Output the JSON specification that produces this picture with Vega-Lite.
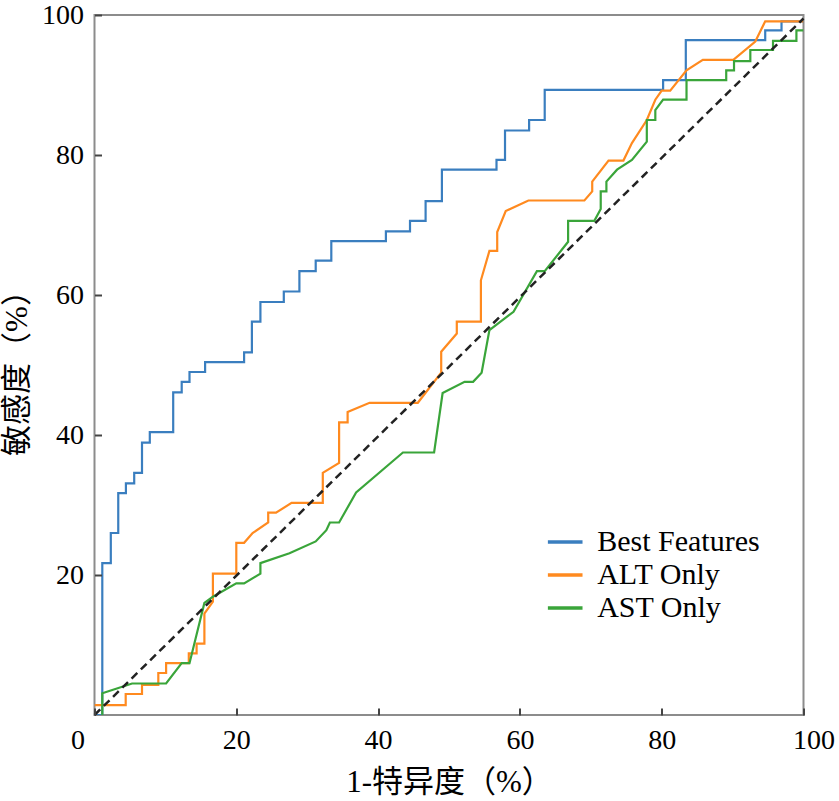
{
  "$schema": "https://vega.github.io/schema/vega-lite/v6.json",
  "width": 709,
  "height": 700,
  "autosize": {"type": "none"},
  "padding": {"left": 94.5, "top": 15, "right": 35.5, "bottom": 86},
  "background": "white",
  "config": {
    "view": {"stroke": "#8c8c8c", "strokeWidth": 2},
    "axis": {
      "grid": false,
      "domain": false,
      "labelFont": "Liberation Serif",
      "labelFontSize": 28,
      "labelColor": "black",
      "titleFont": "Liberation Serif, Noto Sans CJK SC",
      "titleFontSize": 31,
      "titleFontWeight": "normal",
      "titleColor": "black"
    }
  },
  "layer": [
    {
      "data": {
        "values": [
          {"series": "Best Features", "i": 0, "fpr": 0, "tpr": 0},
          {"series": "Best Features", "i": 1, "fpr": 1.1, "tpr": 0},
          {"series": "Best Features", "i": 2, "fpr": 1.1, "tpr": 21.7},
          {"series": "Best Features", "i": 3, "fpr": 2.3, "tpr": 21.7},
          {"series": "Best Features", "i": 4, "fpr": 2.3, "tpr": 26.0},
          {"series": "Best Features", "i": 5, "fpr": 3.35, "tpr": 26.0},
          {"series": "Best Features", "i": 6, "fpr": 3.35, "tpr": 31.7},
          {"series": "Best Features", "i": 7, "fpr": 4.43, "tpr": 31.7},
          {"series": "Best Features", "i": 8, "fpr": 4.43, "tpr": 33.1},
          {"series": "Best Features", "i": 9, "fpr": 5.6, "tpr": 33.1},
          {"series": "Best Features", "i": 10, "fpr": 5.6, "tpr": 34.6},
          {"series": "Best Features", "i": 11, "fpr": 6.7, "tpr": 34.6},
          {"series": "Best Features", "i": 12, "fpr": 6.7, "tpr": 38.9},
          {"series": "Best Features", "i": 13, "fpr": 7.8, "tpr": 38.9},
          {"series": "Best Features", "i": 14, "fpr": 7.8, "tpr": 40.4},
          {"series": "Best Features", "i": 15, "fpr": 11.1, "tpr": 40.4},
          {"series": "Best Features", "i": 16, "fpr": 11.1, "tpr": 46.1},
          {"series": "Best Features", "i": 17, "fpr": 12.3, "tpr": 46.1},
          {"series": "Best Features", "i": 18, "fpr": 12.3, "tpr": 47.6},
          {"series": "Best Features", "i": 19, "fpr": 13.4, "tpr": 47.6},
          {"series": "Best Features", "i": 20, "fpr": 13.4, "tpr": 49.0},
          {"series": "Best Features", "i": 21, "fpr": 15.6, "tpr": 49.0},
          {"series": "Best Features", "i": 22, "fpr": 15.6, "tpr": 50.4},
          {"series": "Best Features", "i": 23, "fpr": 21.1, "tpr": 50.4},
          {"series": "Best Features", "i": 24, "fpr": 21.1, "tpr": 51.8},
          {"series": "Best Features", "i": 25, "fpr": 22.2, "tpr": 51.8},
          {"series": "Best Features", "i": 26, "fpr": 22.2, "tpr": 56.2},
          {"series": "Best Features", "i": 27, "fpr": 23.4, "tpr": 56.2},
          {"series": "Best Features", "i": 28, "fpr": 23.4, "tpr": 59.0},
          {"series": "Best Features", "i": 29, "fpr": 26.7, "tpr": 59.0},
          {"series": "Best Features", "i": 30, "fpr": 26.7, "tpr": 60.5},
          {"series": "Best Features", "i": 31, "fpr": 28.9, "tpr": 60.5},
          {"series": "Best Features", "i": 32, "fpr": 28.9, "tpr": 63.4},
          {"series": "Best Features", "i": 33, "fpr": 31.2, "tpr": 63.4},
          {"series": "Best Features", "i": 34, "fpr": 31.2, "tpr": 64.9},
          {"series": "Best Features", "i": 35, "fpr": 33.4, "tpr": 64.9},
          {"series": "Best Features", "i": 36, "fpr": 33.4, "tpr": 67.7},
          {"series": "Best Features", "i": 37, "fpr": 41.1, "tpr": 67.7},
          {"series": "Best Features", "i": 38, "fpr": 41.1, "tpr": 69.1},
          {"series": "Best Features", "i": 39, "fpr": 44.5, "tpr": 69.1},
          {"series": "Best Features", "i": 40, "fpr": 44.5, "tpr": 70.6},
          {"series": "Best Features", "i": 41, "fpr": 46.7, "tpr": 70.6},
          {"series": "Best Features", "i": 42, "fpr": 46.7, "tpr": 73.4},
          {"series": "Best Features", "i": 43, "fpr": 49.0, "tpr": 73.4},
          {"series": "Best Features", "i": 44, "fpr": 49.0, "tpr": 77.9},
          {"series": "Best Features", "i": 45, "fpr": 56.7, "tpr": 77.9},
          {"series": "Best Features", "i": 46, "fpr": 56.7, "tpr": 79.3},
          {"series": "Best Features", "i": 47, "fpr": 57.9, "tpr": 79.3},
          {"series": "Best Features", "i": 48, "fpr": 57.9, "tpr": 83.5},
          {"series": "Best Features", "i": 49, "fpr": 61.3, "tpr": 83.5},
          {"series": "Best Features", "i": 50, "fpr": 61.3, "tpr": 85.0},
          {"series": "Best Features", "i": 51, "fpr": 63.5, "tpr": 85.0},
          {"series": "Best Features", "i": 52, "fpr": 63.5, "tpr": 89.3},
          {"series": "Best Features", "i": 53, "fpr": 80.2, "tpr": 89.3},
          {"series": "Best Features", "i": 54, "fpr": 80.2, "tpr": 90.7},
          {"series": "Best Features", "i": 55, "fpr": 83.4, "tpr": 90.7},
          {"series": "Best Features", "i": 56, "fpr": 83.4, "tpr": 96.4},
          {"series": "Best Features", "i": 57, "fpr": 94.6, "tpr": 96.4},
          {"series": "Best Features", "i": 58, "fpr": 94.6, "tpr": 97.8},
          {"series": "Best Features", "i": 59, "fpr": 96.9, "tpr": 97.8},
          {"series": "Best Features", "i": 60, "fpr": 96.9, "tpr": 99.1},
          {"series": "Best Features", "i": 61, "fpr": 100, "tpr": 99.1},

          {"series": "ALT Only", "i": 0, "fpr": 0, "tpr": 1.4},
          {"series": "ALT Only", "i": 1, "fpr": 4.4, "tpr": 1.4},
          {"series": "ALT Only", "i": 2, "fpr": 4.4, "tpr": 3.0},
          {"series": "ALT Only", "i": 3, "fpr": 6.7, "tpr": 3.0},
          {"series": "ALT Only", "i": 4, "fpr": 6.7, "tpr": 4.3},
          {"series": "ALT Only", "i": 5, "fpr": 9.0, "tpr": 4.3},
          {"series": "ALT Only", "i": 6, "fpr": 9.0, "tpr": 6.0},
          {"series": "ALT Only", "i": 7, "fpr": 10.1, "tpr": 6.0},
          {"series": "ALT Only", "i": 8, "fpr": 10.1, "tpr": 7.4},
          {"series": "ALT Only", "i": 9, "fpr": 13.3, "tpr": 7.4},
          {"series": "ALT Only", "i": 10, "fpr": 13.3, "tpr": 8.8},
          {"series": "ALT Only", "i": 11, "fpr": 14.4, "tpr": 8.8},
          {"series": "ALT Only", "i": 12, "fpr": 14.4, "tpr": 10.2},
          {"series": "ALT Only", "i": 13, "fpr": 15.5, "tpr": 10.2},
          {"series": "ALT Only", "i": 14, "fpr": 15.5, "tpr": 14.5},
          {"series": "ALT Only", "i": 15, "fpr": 16.7, "tpr": 16.2},
          {"series": "ALT Only", "i": 16, "fpr": 16.7, "tpr": 20.2},
          {"series": "ALT Only", "i": 17, "fpr": 20.0, "tpr": 20.2},
          {"series": "ALT Only", "i": 18, "fpr": 20.0, "tpr": 24.6},
          {"series": "ALT Only", "i": 19, "fpr": 21.1, "tpr": 24.6},
          {"series": "ALT Only", "i": 20, "fpr": 22.3, "tpr": 26.0},
          {"series": "ALT Only", "i": 21, "fpr": 24.5, "tpr": 27.5},
          {"series": "ALT Only", "i": 22, "fpr": 24.5, "tpr": 28.9},
          {"series": "ALT Only", "i": 23, "fpr": 25.6, "tpr": 28.9},
          {"series": "ALT Only", "i": 24, "fpr": 27.8, "tpr": 30.3},
          {"series": "ALT Only", "i": 25, "fpr": 32.2, "tpr": 30.3},
          {"series": "ALT Only", "i": 26, "fpr": 32.2, "tpr": 34.6},
          {"series": "ALT Only", "i": 27, "fpr": 34.5, "tpr": 36.0},
          {"series": "ALT Only", "i": 28, "fpr": 34.5, "tpr": 41.8},
          {"series": "ALT Only", "i": 29, "fpr": 35.7, "tpr": 41.8},
          {"series": "ALT Only", "i": 30, "fpr": 35.7, "tpr": 43.3},
          {"series": "ALT Only", "i": 31, "fpr": 38.8, "tpr": 44.6},
          {"series": "ALT Only", "i": 32, "fpr": 45.6, "tpr": 44.6},
          {"series": "ALT Only", "i": 33, "fpr": 48.9, "tpr": 48.9},
          {"series": "ALT Only", "i": 34, "fpr": 48.9, "tpr": 51.9},
          {"series": "ALT Only", "i": 35, "fpr": 51.1, "tpr": 54.5},
          {"series": "ALT Only", "i": 36, "fpr": 51.1, "tpr": 56.2},
          {"series": "ALT Only", "i": 37, "fpr": 54.5, "tpr": 56.2},
          {"series": "ALT Only", "i": 38, "fpr": 54.5, "tpr": 62.1},
          {"series": "ALT Only", "i": 39, "fpr": 55.7, "tpr": 66.3},
          {"series": "ALT Only", "i": 40, "fpr": 56.8, "tpr": 66.3},
          {"series": "ALT Only", "i": 41, "fpr": 56.8, "tpr": 69.0},
          {"series": "ALT Only", "i": 42, "fpr": 58.0, "tpr": 72.0},
          {"series": "ALT Only", "i": 43, "fpr": 61.2, "tpr": 73.5},
          {"series": "ALT Only", "i": 44, "fpr": 69.1, "tpr": 73.5},
          {"series": "ALT Only", "i": 45, "fpr": 70.2, "tpr": 74.8},
          {"series": "ALT Only", "i": 46, "fpr": 70.2, "tpr": 76.2},
          {"series": "ALT Only", "i": 47, "fpr": 72.5, "tpr": 79.2},
          {"series": "ALT Only", "i": 48, "fpr": 74.6, "tpr": 79.2},
          {"series": "ALT Only", "i": 49, "fpr": 75.8, "tpr": 81.7},
          {"series": "ALT Only", "i": 50, "fpr": 77.9, "tpr": 85.0},
          {"series": "ALT Only", "i": 51, "fpr": 79.1, "tpr": 87.9},
          {"series": "ALT Only", "i": 52, "fpr": 80.0, "tpr": 89.2},
          {"series": "ALT Only", "i": 53, "fpr": 81.2, "tpr": 89.2},
          {"series": "ALT Only", "i": 54, "fpr": 83.5, "tpr": 92.1},
          {"series": "ALT Only", "i": 55, "fpr": 85.8, "tpr": 93.6},
          {"series": "ALT Only", "i": 56, "fpr": 90.1, "tpr": 93.6},
          {"series": "ALT Only", "i": 57, "fpr": 93.2, "tpr": 96.2},
          {"series": "ALT Only", "i": 58, "fpr": 94.6, "tpr": 99.1},
          {"series": "ALT Only", "i": 59, "fpr": 100, "tpr": 99.1},

          {"series": "AST Only", "i": 0, "fpr": 1.1, "tpr": 0},
          {"series": "AST Only", "i": 1, "fpr": 1.1, "tpr": 3.1},
          {"series": "AST Only", "i": 2, "fpr": 5.3, "tpr": 4.5},
          {"series": "AST Only", "i": 3, "fpr": 10.1, "tpr": 4.5},
          {"series": "AST Only", "i": 4, "fpr": 12.3, "tpr": 7.4},
          {"series": "AST Only", "i": 5, "fpr": 13.4, "tpr": 7.4},
          {"series": "AST Only", "i": 6, "fpr": 15.5, "tpr": 16.0},
          {"series": "AST Only", "i": 7, "fpr": 16.7, "tpr": 16.9},
          {"series": "AST Only", "i": 8, "fpr": 20.0, "tpr": 18.8},
          {"series": "AST Only", "i": 9, "fpr": 21.1, "tpr": 18.8},
          {"series": "AST Only", "i": 10, "fpr": 23.4, "tpr": 20.2},
          {"series": "AST Only", "i": 11, "fpr": 23.4, "tpr": 21.7},
          {"series": "AST Only", "i": 12, "fpr": 27.5, "tpr": 23.1},
          {"series": "AST Only", "i": 13, "fpr": 31.2, "tpr": 24.8},
          {"series": "AST Only", "i": 14, "fpr": 32.7, "tpr": 26.4},
          {"series": "AST Only", "i": 15, "fpr": 33.2, "tpr": 27.5},
          {"series": "AST Only", "i": 16, "fpr": 34.5, "tpr": 27.5},
          {"series": "AST Only", "i": 17, "fpr": 36.9, "tpr": 31.8},
          {"series": "AST Only", "i": 18, "fpr": 43.5, "tpr": 37.5},
          {"series": "AST Only", "i": 19, "fpr": 47.9, "tpr": 37.5},
          {"series": "AST Only", "i": 20, "fpr": 49.1, "tpr": 46.0},
          {"series": "AST Only", "i": 21, "fpr": 52.2, "tpr": 47.6},
          {"series": "AST Only", "i": 22, "fpr": 53.4, "tpr": 47.6},
          {"series": "AST Only", "i": 23, "fpr": 54.6, "tpr": 48.9},
          {"series": "AST Only", "i": 24, "fpr": 55.7, "tpr": 55.0},
          {"series": "AST Only", "i": 25, "fpr": 59.1, "tpr": 57.6},
          {"series": "AST Only", "i": 26, "fpr": 62.4, "tpr": 63.4},
          {"series": "AST Only", "i": 27, "fpr": 63.5, "tpr": 63.4},
          {"series": "AST Only", "i": 28, "fpr": 66.8, "tpr": 67.6},
          {"series": "AST Only", "i": 29, "fpr": 66.8, "tpr": 70.6},
          {"series": "AST Only", "i": 30, "fpr": 70.5, "tpr": 70.6},
          {"series": "AST Only", "i": 31, "fpr": 71.4, "tpr": 72.3},
          {"series": "AST Only", "i": 32, "fpr": 71.4, "tpr": 74.8},
          {"series": "AST Only", "i": 33, "fpr": 72.2, "tpr": 74.8},
          {"series": "AST Only", "i": 34, "fpr": 72.2, "tpr": 76.2},
          {"series": "AST Only", "i": 35, "fpr": 73.7, "tpr": 77.9},
          {"series": "AST Only", "i": 36, "fpr": 75.8, "tpr": 79.3},
          {"series": "AST Only", "i": 37, "fpr": 77.9, "tpr": 81.9},
          {"series": "AST Only", "i": 38, "fpr": 77.9, "tpr": 85.0},
          {"series": "AST Only", "i": 39, "fpr": 79.1, "tpr": 85.0},
          {"series": "AST Only", "i": 40, "fpr": 79.1, "tpr": 86.4},
          {"series": "AST Only", "i": 41, "fpr": 80.2, "tpr": 87.9},
          {"series": "AST Only", "i": 42, "fpr": 83.5, "tpr": 87.9},
          {"series": "AST Only", "i": 43, "fpr": 83.5, "tpr": 90.7},
          {"series": "AST Only", "i": 44, "fpr": 89.1, "tpr": 90.7},
          {"series": "AST Only", "i": 45, "fpr": 89.1, "tpr": 92.1},
          {"series": "AST Only", "i": 46, "fpr": 90.2, "tpr": 92.1},
          {"series": "AST Only", "i": 47, "fpr": 90.2, "tpr": 93.4},
          {"series": "AST Only", "i": 48, "fpr": 92.5, "tpr": 93.4},
          {"series": "AST Only", "i": 49, "fpr": 92.5, "tpr": 95.0},
          {"series": "AST Only", "i": 50, "fpr": 95.7, "tpr": 95.0},
          {"series": "AST Only", "i": 51, "fpr": 95.7, "tpr": 96.3},
          {"series": "AST Only", "i": 52, "fpr": 99.0, "tpr": 96.3},
          {"series": "AST Only", "i": 53, "fpr": 99.0, "tpr": 97.8},
          {"series": "AST Only", "i": 54, "fpr": 100, "tpr": 97.8}
        ]
      },
      "mark": {"type": "line", "strokeWidth": 2.2, "clip": true},
      "encoding": {
        "x": {
          "field": "fpr",
          "type": "quantitative",
          "scale": {"domain": [0, 100], "nice": false, "zero": false},
          "axis": {
            "values": [0, 20, 40, 60, 80, 100],
            "ticks": true,
            "tickSize": 7,
            "tickWidth": 2,
            "tickColor": "#444444",
            "offset": -7,
            "zindex": 2,
            "labelFlush": false,
            "labelPadding": 11,
            "labelOffset": {"expr": "datum.value == 0 ? -17 : (datum.value == 100 ? 10 : 0)"},
            "title": "1-特异度（%）",
            "titlePadding": 13
          }
        },
        "y": {
          "field": "tpr",
          "type": "quantitative",
          "scale": {"domain": [0, 100], "nice": false, "zero": false},
          "axis": {
            "values": [20, 40, 60, 80, 100],
            "ticks": true,
            "tickSize": 7,
            "tickWidth": 2,
            "tickColor": "#444444",
            "offset": -7,
            "zindex": 2,
            "labelPadding": 11,
            "title": "敏感度（%）",
            "titlePadding": 8
          }
        },
        "color": {
          "field": "series",
          "type": "nominal",
          "scale": {
            "domain": ["Best Features", "ALT Only", "AST Only"],
            "range": ["#3a7ebf", "#ff8a1f", "#3aa53a"]
          },
          "legend": {
            "title": null,
            "orient": "none",
            "legendX": 455.7,
            "legendY": 512,
            "symbolType": "M-2,0H2",
            "symbolSize": 300,
            "symbolStrokeWidth": 3.5,
            "labelFont": "Liberation Serif",
            "labelFontSize": 30,
            "labelColor": "black",
            "labelLimit": 400,
            "labelOffset": 17,
            "rowPadding": 3
          }
        },
        "order": {"field": "i", "type": "quantitative"}
      }
    },
    {
      "data": {
        "values": [
          {"fpr": 0, "tpr": 0},
          {"fpr": 100, "tpr": 99.5}
        ]
      },
      "mark": {"type": "line", "color": "#222222", "strokeWidth": 2.5, "strokeDash": [8, 5]},
      "encoding": {
        "x": {"field": "fpr", "type": "quantitative"},
        "y": {"field": "tpr", "type": "quantitative"}
      }
    }
  ]
}
